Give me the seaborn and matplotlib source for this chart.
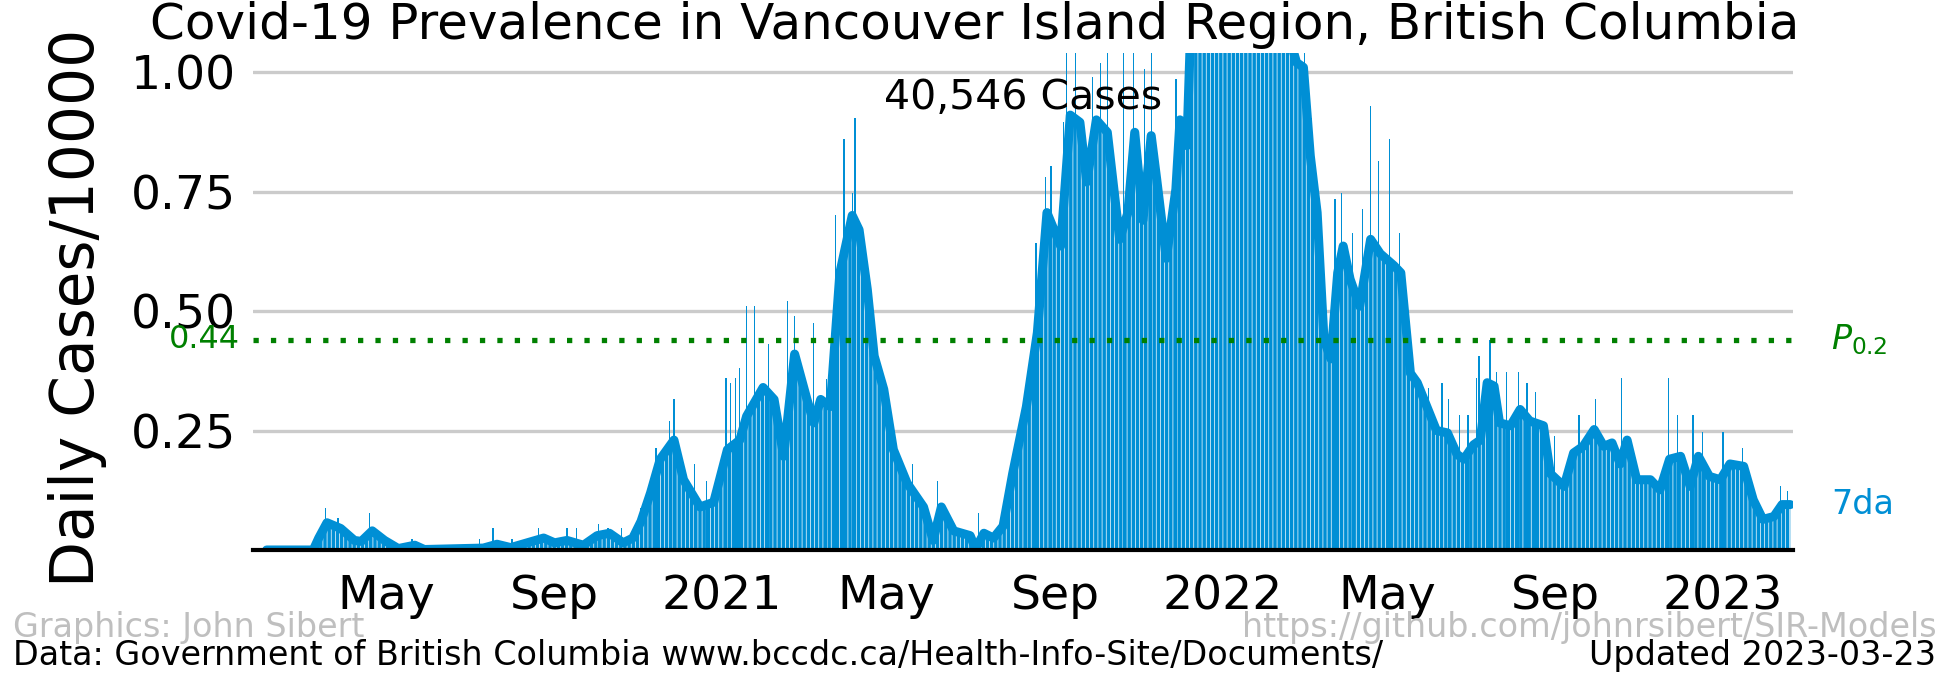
import pandas as pd
import matplotlib
matplotlib.use("Agg")
import matplotlib.pyplot as plt
import matplotlib.dates as mdates
import matplotlib.transforms as mtransforms
import seaborn as sns

# 7-day average (cases / 10000)
avg_dates = [
    "2020-02-04", "2020-03-09", "2020-03-13", "2020-03-19", "2020-03-29", "2020-04-08",
    "2020-04-13", "2020-04-21", "2020-04-30", "2020-05-10", "2020-05-22", "2020-05-29",
    "2020-07-11", "2020-07-21", "2020-07-31", "2020-08-24", "2020-09-01", "2020-09-10",
    "2020-09-22", "2020-10-02", "2020-10-11", "2020-10-21", "2020-10-28", "2020-11-03",
    "2020-11-10", "2020-11-17", "2020-11-27", "2020-12-04", "2020-12-16", "2020-12-26",
    "2021-01-05", "2021-01-14", "2021-01-19", "2021-01-31", "2021-02-08", "2021-02-15",
    "2021-02-23", "2021-03-04", "2021-03-09", "2021-03-14", "2021-03-21", "2021-03-28",
    "2021-04-06", "2021-04-11", "2021-04-17", "2021-04-22", "2021-04-29", "2021-05-06",
    "2021-05-16", "2021-05-28", "2021-06-04", "2021-06-10", "2021-06-19", "2021-07-01",
    "2021-07-05", "2021-07-11", "2021-07-18", "2021-07-25", "2021-08-01", "2021-08-11",
    "2021-08-19", "2021-08-26", "2021-09-05", "2021-09-12", "2021-09-19", "2021-09-24",
    "2021-10-01", "2021-10-09", "2021-10-18", "2021-10-24", "2021-10-29", "2021-11-04",
    "2021-11-10", "2021-11-14", "2021-11-21", "2021-11-28", "2021-12-01", "2021-12-06",
    "2021-12-10", "2021-12-18", "2021-12-27", "2022-01-05", "2022-01-13", "2022-01-21",
    "2022-01-30", "2022-02-08", "2022-02-16", "2022-02-24", "2022-03-01", "2022-03-06",
    "2022-03-11", "2022-03-16", "2022-03-21", "2022-03-26", "2022-03-30", "2022-04-04",
    "2022-04-11", "2022-04-19", "2022-04-26", "2022-05-06", "2022-05-11", "2022-05-18",
    "2022-05-23", "2022-05-30", "2022-06-06", "2022-06-14", "2022-06-21", "2022-06-26",
    "2022-07-03", "2022-07-08", "2022-07-13", "2022-07-18", "2022-07-22", "2022-07-30",
    "2022-08-06", "2022-08-13", "2022-08-23", "2022-08-28", "2022-09-07", "2022-09-14",
    "2022-09-21", "2022-09-29", "2022-10-06", "2022-10-12", "2022-10-18", "2022-10-23",
    "2022-10-30", "2022-11-09", "2022-11-16", "2022-11-23", "2022-12-01", "2022-12-08",
    "2022-12-14", "2022-12-22", "2022-12-30", "2023-01-06", "2023-01-16", "2023-01-23",
    "2023-01-30", "2023-02-07", "2023-02-13", "2023-02-19",
]
avg_vals = [
    0.0, 0.0, 0.025, 0.057, 0.045, 0.02,
    0.018, 0.04, 0.02, 0.003, 0.01, 0.001,
    0.004, 0.012, 0.005, 0.025, 0.015, 0.02,
    0.01, 0.03, 0.035, 0.015, 0.025, 0.06,
    0.12, 0.19, 0.23, 0.147, 0.09, 0.10,
    0.21, 0.23, 0.28, 0.34, 0.315, 0.196,
    0.41, 0.315, 0.266, 0.315, 0.30, 0.58,
    0.70, 0.67, 0.545, 0.406, 0.336, 0.21,
    0.14, 0.09, 0.02, 0.09, 0.04, 0.03,
    0.002, 0.035, 0.025, 0.05, 0.16, 0.30,
    0.455, 0.706, 0.636, 0.91, 0.895, 0.77,
    0.90, 0.874, 0.65, 0.706, 0.874, 0.69,
    0.867, 0.776, 0.61, 0.755, 0.90, 0.846,
    1.2, 2.0, 3.1, 3.5, 3.0, 2.3,
    1.7, 1.3, 1.1, 1.02, 1.01, 0.825,
    0.706, 0.44, 0.40, 0.58, 0.636, 0.567,
    0.51, 0.65, 0.62, 0.595, 0.58, 0.37,
    0.35, 0.30, 0.25, 0.245, 0.20, 0.19,
    0.22, 0.23, 0.35, 0.343, 0.266, 0.26,
    0.294, 0.27, 0.26, 0.16, 0.133, 0.203,
    0.217, 0.252, 0.217, 0.224, 0.18, 0.23,
    0.147, 0.147, 0.126, 0.19, 0.196, 0.133,
    0.196, 0.154, 0.147, 0.18, 0.175, 0.105,
    0.064, 0.07, 0.095, 0.095,
]

# tallest daily bars that stick out above the average
spike_dates = [
    "2020-03-18", "2020-03-27", "2020-04-19", "2020-05-20", "2020-07-08", "2020-07-18",
    "2020-08-01", "2020-08-20", "2020-09-10", "2020-09-17", "2020-10-03", "2020-10-10",
    "2020-10-20", "2020-11-03", "2020-11-09", "2020-11-14", "2020-11-24", "2020-11-27",
    "2020-12-12", "2020-12-21", "2021-01-04", "2021-01-07", "2021-01-11", "2021-01-14",
    "2021-01-19", "2021-01-25", "2021-02-04", "2021-02-18", "2021-02-23", "2021-03-09",
    "2021-03-18", "2021-03-25", "2021-03-31", "2021-04-06", "2021-04-08", "2021-04-17",
    "2021-04-26", "2021-05-13", "2021-05-20", "2021-06-07", "2021-07-07", "2021-08-11",
    "2021-08-18", "2021-08-25", "2021-08-29", "2021-09-07", "2021-09-09", "2021-09-16",
    "2021-09-28", "2021-10-04", "2021-10-09", "2021-10-21", "2021-10-28", "2021-11-05",
    "2021-11-10", "2021-11-28", "2021-12-04", "2022-03-02", "2022-03-07", "2022-03-11",
    "2022-03-24", "2022-03-29", "2022-04-06", "2022-04-13", "2022-04-19", "2022-04-25",
    "2022-05-03", "2022-05-10", "2022-05-31", "2022-06-10", "2022-06-15", "2022-06-23",
    "2022-06-29", "2022-07-05", "2022-07-07", "2022-07-15", "2022-07-20", "2022-07-27",
    "2022-08-05", "2022-08-11", "2022-08-17", "2022-08-31", "2022-09-18", "2022-09-30",
    "2022-10-19", "2022-11-22", "2022-11-29", "2022-12-10", "2022-12-17", "2023-01-01",
    "2023-01-15", "2023-02-12", "2023-02-17",
]
spike_vals = [
    0.088, 0.067, 0.078, 0.022, 0.022, 0.045,
    0.022, 0.045, 0.045, 0.045, 0.055, 0.045,
    0.045, 0.088, 0.11, 0.214, 0.27, 0.315,
    0.18, 0.144, 0.36, 0.35, 0.36, 0.38,
    0.51, 0.51, 0.43, 0.52, 0.49, 0.476,
    0.357, 0.70, 0.86, 0.747, 0.905, 0.58,
    0.395, 0.18, 0.18, 0.144, 0.078, 0.35,
    0.643, 0.78, 0.804, 0.895, 1.1, 1.1,
    0.99, 1.02, 1.06, 1.1, 1.1, 1.007,
    1.1, 0.985, 0.818, 1.1, 0.905, 0.72,
    0.734, 0.747, 0.664, 0.713, 0.93, 0.815,
    0.86, 0.664, 0.34, 0.35, 0.315, 0.282,
    0.282, 0.36, 0.406, 0.44, 0.373, 0.373,
    0.373, 0.35, 0.33, 0.238, 0.282, 0.315,
    0.36, 0.36, 0.282, 0.282, 0.247, 0.247,
    0.214, 0.133, 0.123,
]

p02 = 0.44
total_cases = 40546
yticks = [0.25, 0.50, 0.75, 1.00]

blue = "#008fd5"
green = "green"

sns.set_style("white")
plt.rcParams["font.family"] = ["DejaVu Sans"]
plt.rcParams["text.color"] = "black"
plt.rcParams["xtick.color"] = "black"
plt.rcParams["ytick.color"] = "black"
plt.rcParams["hatch.linewidth"] = 0.5

df = pd.DataFrame({"date": pd.to_datetime(avg_dates), "avg": avg_vals})
spikes = pd.DataFrame({"date": pd.to_datetime(spike_dates), "cases": spike_vals})

fig = plt.figure(figsize=(19.5, 6.75), dpi=100)
ax = fig.add_axes([0.1297, 0.1852, 0.7898, 0.7363])

# daily bars: dense body under the average plus the tall individual days
ax.fill_between(df["date"], 0, df["avg"], facecolor=blue, edgecolor="white",
                hatch="||||", linewidth=0, zorder=2)
ax.bar(spikes["date"], spikes["cases"], width=0.9, color=blue, linewidth=0, zorder=2)

sns.lineplot(data=df, x="date", y="avg", ax=ax, color=blue, linewidth=6.5,
             solid_joinstyle="round", solid_capstyle="round", zorder=3)

ax.axhline(p02, color=green, linewidth=3.8, linestyle=(0, (1, 2.3)), zorder=4)

ax.set_xlim(pd.Timestamp("2020-01-25"), pd.Timestamp("2023-02-21"))
ax.set_ylim(0, 1.04)
ax.set_yticks(yticks)
ax.set_yticklabels([f"{v:.2f}" for v in yticks])
ax.grid(axis="y", color="#cbcbcb", linewidth=2.4, zorder=0)
ax.grid(axis="x", visible=False)
ax.set_axisbelow(True)

ax.xaxis.set_major_locator(mdates.MonthLocator(bymonth=[1, 5, 9]))
ax.xaxis.set_major_formatter(plt.FuncFormatter(
    lambda x, pos: mdates.num2date(x).strftime("%Y") if mdates.num2date(x).month == 1
    else mdates.num2date(x).strftime("%b")))
ax.tick_params(axis="both", length=0, labelsize=34)
ax.tick_params(axis="x", pad=17.5)
ax.tick_params(axis="y", pad=12)
ax.set_xlabel("")
ax.set_ylabel("")

for side in ["left", "right", "top"]:
    ax.spines[side].set_visible(False)
ax.spines["bottom"].set_color("black")
ax.spines["bottom"].set_linewidth(3)
ax.spines["bottom"].set_zorder(5)

trans = mtransforms.blended_transform_factory(ax.transAxes, ax.transData)
ax.text(-0.0084, p02, f"{p02:.2f}", color=green, fontsize=23, ha="right", va="center",
        transform=trans)
ax.text(1.0247, p02, r"$P_{0.2}$", color=green, fontsize=24, ha="left", va="center",
        transform=trans)
ax.text(1.0247, avg_vals[-1], "7da", color=blue, fontsize=24, ha="left", va="center",
        transform=trans)
ax.text(0.5, 0.91, f"{total_cases:,} Cases", fontsize=29.5, ha="center", va="center",
        transform=ax.transAxes)

fig.text(0.5, 0.963, "Covid-19 Prevalence in Vancouver Island Region, British Columbia",
         fontsize=36, ha="center", va="center")
fig.text(0.0395, 0.544, "Daily Cases/10000", fontsize=43, rotation=90,
         ha="center", va="center")

fig.text(0.0067, 1 - 637 / 675, "Graphics: John Sibert", fontsize=24, color="#bfbfbf",
         ha="left", va="baseline")
fig.text(0.993, 1 - 637 / 675, "https://github.com/johnrsibert/SIR-Models", fontsize=24,
         color="#bfbfbf", ha="right", va="baseline")
fig.text(0.0067, 1 - 665 / 675,
         "Data: Government of British Columbia www.bccdc.ca/Health-Info-Site/Documents/",
         fontsize=24, ha="left", va="baseline")
fig.text(0.993, 1 - 665 / 675, "Updated 2023-03-23", fontsize=24, ha="right",
         va="baseline")

fig.savefig("out.png", dpi=100)
